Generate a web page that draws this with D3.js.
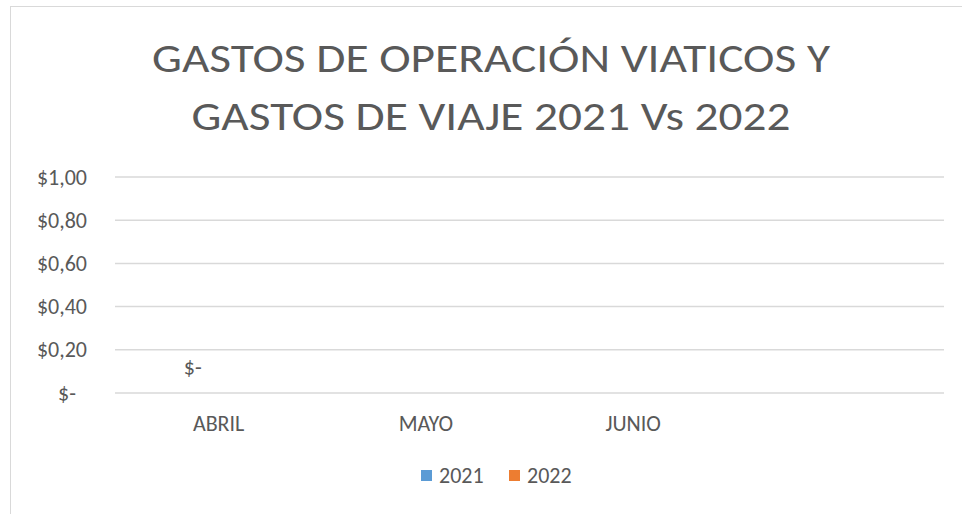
<!DOCTYPE html>
<html>
<head>
<meta charset="utf-8">
<script src="https://cdn.jsdelivr.net/npm/d3@7"></script>
<style>
  body { margin: 0; background: #fff; }
  text { font-family: Carlito, Lato, "Open Sans", sans-serif; fill: #595959; }
</style>
</head>
<body>
<div id="chart"></div>
<script>
// chart data
var categories = ["ABRIL", "MAYO", "JUNIO", ""];
var seriesNames = ["2021", "2022"];
var values2021 = [0, null, null, null];
var values2022 = [null, null, null, null];
var seriesColors = ["#5b9bd5", "#ed7d31"];
var yTicks = [0, 0.2, 0.4, 0.6, 0.8, 1.0];
var titleLines = ["GASTOS DE OPERACIÓN VIATICOS Y", "GASTOS DE VIAJE 2021 Vs 2022"];

var W = 962, H = 514;
var margin = {top: 177, right: 18, bottom: 121, left: 115};
var width = W - margin.left - margin.right,
    height = H - margin.top - margin.bottom;
var fs = "22px";

var svg = d3.select("#chart").append("svg")
    .attr("width", W).attr("height", H);

// chart area border
svg.append("rect")
    .attr("x", 10.5).attr("y", 6.5)
    .attr("width", W + 20).attr("height", H + 20)
    .attr("fill", "#fff").attr("stroke", "#d9d9d9").attr("stroke-width", 1);

// title
var titleWidths = [678, 599];
svg.selectAll(".title").data(titleLines).enter().append("text")
    .attr("class", "title")
    .attr("x", 491)
    .attr("y", function(d, i) { return 72 + i * 58; })
    .attr("text-anchor", "middle")
    .attr("textLength", function(d, i) { return titleWidths[i]; })
    .attr("lengthAdjust", "spacingAndGlyphs")
    .style("font-size", "42px")
    .text(function(d) { return d; });

var g = svg.append("g")
    .attr("transform", "translate(" + margin.left + "," + margin.top + ")");

var x = d3.scaleBand().domain(d3.range(categories.length)).range([0, width]);
var xInner = d3.scaleBand().domain(seriesNames).range([0, x.bandwidth()]).paddingOuter(1);
var y = d3.scaleLinear().domain([0, 1]).range([height, 0]);

// gridlines
g.selectAll(".grid").data(yTicks).enter().append("line")
    .attr("x1", 0).attr("x2", width)
    .attr("y1", function(d) { return y(d); })
    .attr("y2", function(d) { return y(d); })
    .attr("stroke", "#d9d9d9").attr("stroke-width", 1.5);

// y axis labels
var yAxis = d3.axisLeft(y).tickValues(yTicks).tickSize(0).tickPadding(28)
    .tickFormat(function(d) { return d === 0 ? "$-" : "$" + d3.format(".2f")(d).replace(".", ","); });
var ya = g.append("g").call(yAxis);
ya.select(".domain").remove();
ya.selectAll("text")
    .style("font-size", fs).attr("fill", "#595959")
    .attr("dx", function(d) { return d === 0 ? -11 : 0; });

// x axis labels
var xAxis = d3.axisBottom(x).tickSize(0).tickPadding(22)
    .tickFormat(function(i) { return categories[i]; });
var xa = g.append("g").attr("transform", "translate(0," + height + ")").call(xAxis);
xa.select(".domain").remove();
xa.selectAll("text").style("font-size", fs).attr("fill", "#595959");

// bars
var series = [values2021, values2022];
series.forEach(function(vals, s) {
  var pts = vals.map(function(v, i) { return {i: i, v: v}; }).filter(function(d) { return d.v !== null; });
  g.selectAll(".bar" + s).data(pts).enter().append("rect")
      .attr("x", function(d) { return x(d.i) + xInner(seriesNames[s]); })
      .attr("width", xInner.bandwidth())
      .attr("y", function(d) { return y(d.v); })
      .attr("height", function(d) { return height - y(d.v); })
      .attr("fill", seriesColors[s]);
  g.selectAll(".lbl" + s).data(pts).enter().append("text")
      .attr("x", function(d) { return x(d.i) + xInner(seriesNames[s]) + xInner.bandwidth() / 2; })
      .attr("y", function(d) { return y(d.v) - 18; })
      .attr("text-anchor", "middle")
      .style("font-size", fs)
      .text(function(d) { return d.v === 0 ? "$-" : "$" + d3.format(".2f")(d.v).replace(".", ","); });
});

// legend
var legend = svg.append("g").attr("transform", "translate(421,470)");
var lx = [0, 88];
seriesNames.forEach(function(name, i) {
  legend.append("rect").attr("x", lx[i]).attr("y", 0).attr("width", 11).attr("height", 11)
      .attr("fill", seriesColors[i]);
  legend.append("text").attr("x", lx[i] + 18).attr("y", 13)
      .style("font-size", fs).text(name);
});
</script>
</body>
</html>
